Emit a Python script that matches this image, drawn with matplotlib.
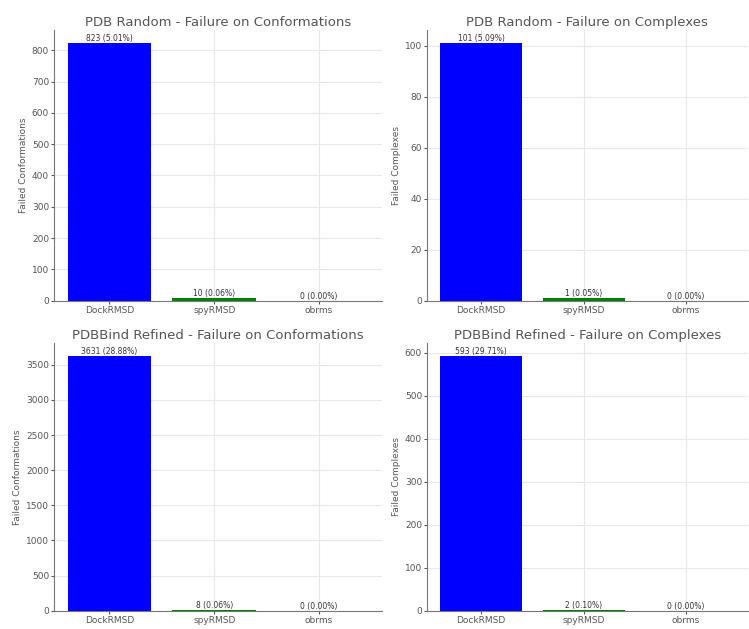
import numpy as np
import matplotlib
matplotlib.use("Agg")
import matplotlib.pyplot as plt

tools = ["DockRMSD", "spyRMSD", "obrms"]
colors = ["blue", "green", "red"]

# failures per tool, with percentage labels
random_conf = [823, 10, 0]
random_conf_pct = [5.01, 0.06, 0.00]
random_cplx = [101, 1, 0]
random_cplx_pct = [5.09, 0.05, 0.00]
refined_conf = [3631, 8, 0]
refined_conf_pct = [28.88, 0.06, 0.00]
refined_cplx = [593, 2, 0]
refined_cplx_pct = [29.71, 0.10, 0.00]

panels = [
    ("PDB Random - Failure on Conformations", "Failed Conformations", random_conf, random_conf_pct),
    ("PDB Random - Failure on Complexes", "Failed Complexes", random_cplx, random_cplx_pct),
    ("PDBBind Refined - Failure on Conformations", "Failed Conformations", refined_conf, refined_conf_pct),
    ("PDBBind Refined - Failure on Complexes", "Failed Complexes", refined_cplx, refined_cplx_pct),
]

# axes boxes in figure fractions (left, bottom, width, height)
boxes = [
    [0.072, 0.522, 0.438, 0.430],
    [0.570, 0.522, 0.428, 0.430],
    [0.072, 0.029, 0.438, 0.426],
    [0.570, 0.029, 0.428, 0.426],
]

fig = plt.figure(figsize=(7.49, 6.29), dpi=100)

for box, (title, ylabel, vals, pcts) in zip(boxes, panels):
    ax = fig.add_axes(box)
    x = np.arange(len(tools))
    ax.bar(x, vals, width=0.8, color=colors, zorder=3)
    for xi, v, p in zip(x, vals, pcts):
        ax.text(xi, v, f"{v} ({p:.2f}%)", ha="center", va="bottom",
                fontsize=5.5, color="#333333", zorder=4)
    ax.set_xticks(x)
    ax.set_xticklabels(tools)
    ax.set_xlim(-0.53, 2.6)
    ax.set_ylim(0, max(vals) * 1.05)
    ax.set_title(title, fontsize=9.5, color="#555555", pad=3)
    ax.set_ylabel(ylabel, fontsize=6.5, color="#555555", labelpad=3)
    ax.tick_params(labelsize=6.5, colors="#555555", length=2.5, pad=1)
    ax.grid(True, color="#e8e8e8", linewidth=0.8, zorder=0)
    for s in ["top", "right"]:
        ax.spines[s].set_visible(False)
    for s in ["left", "bottom"]:
        ax.spines[s].set_color("#777777")

fig.savefig("out.png", dpi=100)
